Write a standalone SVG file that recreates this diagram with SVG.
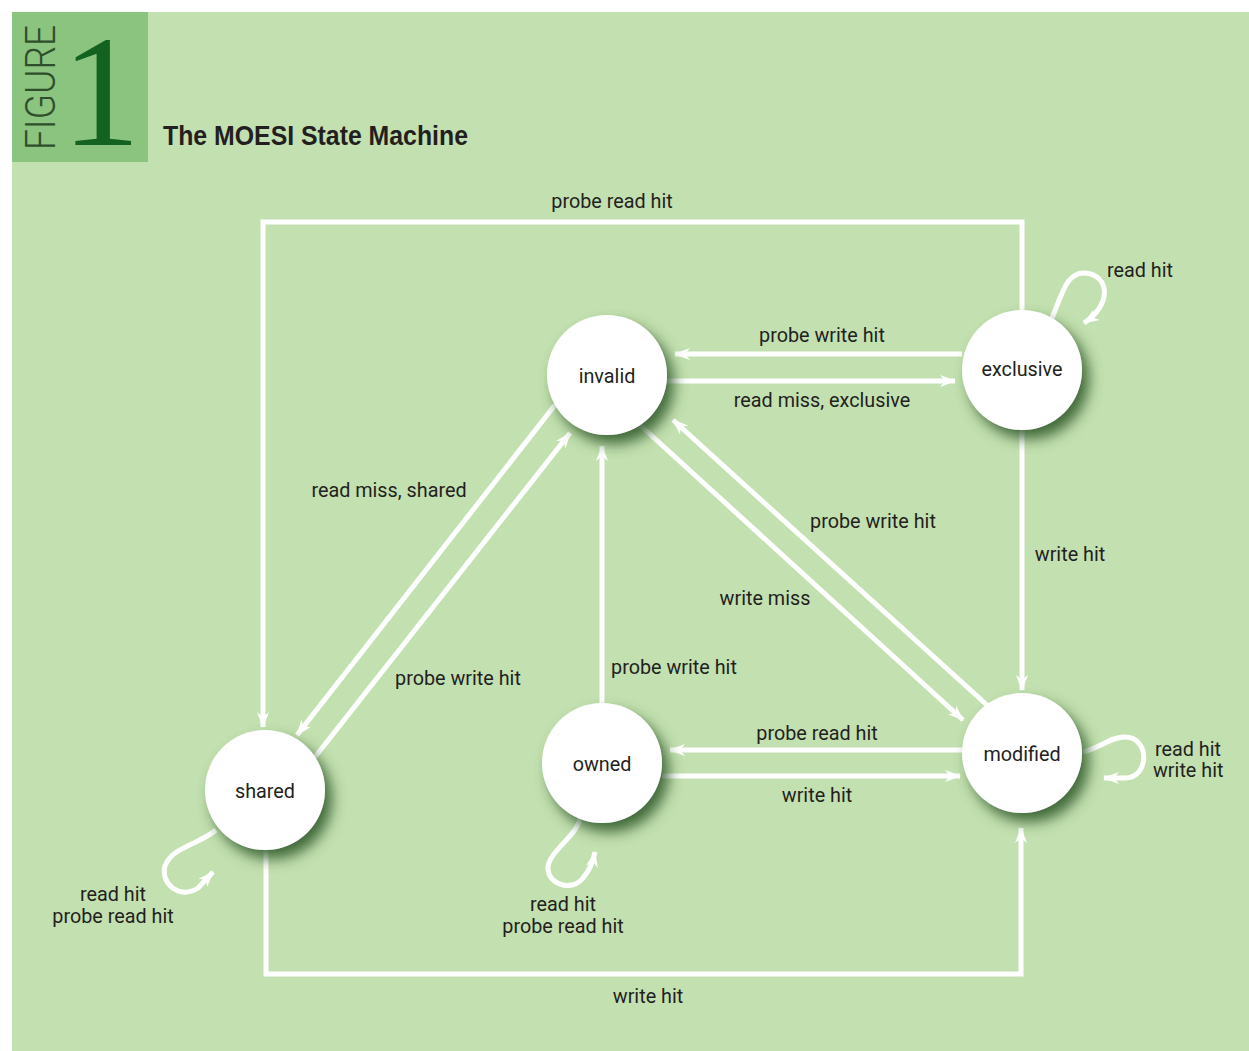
<svg xmlns="http://www.w3.org/2000/svg" width="1249" height="1051" viewBox="0 0 1249 1051">
<defs>
<style>
.bg{fill:#c3e0b0}
.edge{fill:none;stroke:#ffffff;stroke-width:5;marker-end:url(#arr)}
.node{fill:#ffffff;filter:url(#sh)}
.lbl{font-family:Roboto,"Liberation Sans",sans-serif;font-size:19.8px;fill:#231f20}
.c{text-anchor:middle}
</style>
<marker id="arr" viewBox="0 0 16 12" refX="15" refY="6" markerWidth="16" markerHeight="12" markerUnits="userSpaceOnUse" orient="auto">
<path d="M0,0 L16,6 L0,12 L5,6 z" fill="#ffffff"/>
</marker>
<filter id="sh" x="-40%" y="-40%" width="190%" height="190%">
<feDropShadow dx="7" dy="9" stdDeviation="7" flood-color="#2a5227" flood-opacity="0.85"/>
</filter>
</defs>
<rect x="0" y="0" width="1249" height="1051" fill="#ffffff"/>
<rect class="bg" x="12" y="12" width="1237" height="1039"/>
<rect x="12" y="12" width="136" height="150" fill="#8bc47f"/>
<text x="0" y="0" transform="translate(55,150) rotate(-90)" font-family="Roboto,'Liberation Sans',sans-serif" font-weight="300" font-size="42" fill="#2f4f2c" textLength="125" lengthAdjust="spacingAndGlyphs">FIGURE</text>
<text x="101" y="145" text-anchor="middle" font-family="'Liberation Serif',serif" font-size="158" fill="#13621f">1</text>
<text x="163" y="145" font-family="'Liberation Sans Narrow','Liberation Sans',sans-serif" font-weight="bold" font-size="27" fill="#231f20" textLength="305" lengthAdjust="spacingAndGlyphs">The MOESI State Machine</text>

<g id="connectors">
<path class="edge" d="M1022,312 L1022,222 L263,222 L263,727"/>
<path class="edge" d="M962,354 L675,354"/>
<path class="edge" d="M667,381 L955,381"/>
<path class="edge" d="M1022,428 L1022,690"/>
<path class="edge" d="M1052,318 C1062,295 1066,272 1085,273 C1110,275 1112,305 1084,323"/>
<path class="edge" d="M555,405 L297,735"/>
<path class="edge" d="M315,757 L570,433"/>
<path class="edge" d="M602,705 L602,446"/>
<path class="edge" d="M640,425 L963,720"/>
<path class="edge" d="M988,706 L673,420"/>
<path class="edge" d="M962,750 L670,750"/>
<path class="edge" d="M662,776 L960,776"/>
<path class="edge" d="M266,848 L266,974 L1021,974 L1021,828"/>
<path class="edge" d="M216,830 C198,845 172,847 165,866 C160,884 180,900 198,888 L213,872"/>
<path class="edge" d="M580,818 C578,835 548,852 548,868 C548,885 572,892 583,878 C590,870 593,862 595,852"/>
<path class="edge" d="M1083,752 C1100,748 1110,737 1125,737 C1150,737 1150,778 1125,778 L1104,778"/>
</g>

<g id="labels">
<text class="lbl c" x="612" y="208">probe read hit</text>
<text class="lbl" x="1107" y="277">read hit</text>
<text class="lbl c" x="822" y="342">probe write hit</text>
<text class="lbl c" x="822" y="407">read miss, exclusive</text>
<text class="lbl c" x="389" y="497">read miss, shared</text>
<text class="lbl c" x="873" y="528">probe write hit</text>
<text class="lbl c" x="1070" y="561">write hit</text>
<text class="lbl c" x="765" y="605">write miss</text>
<text class="lbl c" x="674" y="674">probe write hit</text>
<text class="lbl c" x="458" y="685">probe write hit</text>
<text class="lbl c" x="817" y="740">probe read hit</text>
<text class="lbl c" x="817" y="802">write hit</text>
<text class="lbl" x="1155" y="756">read hit</text>
<text class="lbl" x="1153" y="777">write hit</text>
<text class="lbl c" x="113" y="901">read hit</text>
<text class="lbl c" x="113" y="923">probe read hit</text>
<text class="lbl c" x="563" y="911">read hit</text>
<text class="lbl c" x="563" y="933">probe read hit</text>
<text class="lbl c" x="648" y="1003">write hit</text>
</g>

<g id="node-invalid"><circle class="node" cx="607" cy="375" r="60"/><text class="lbl c" x="607" y="383">invalid</text></g>
<g id="node-exclusive"><circle class="node" cx="1022" cy="370" r="60"/><text class="lbl c" x="1022" y="376">exclusive</text></g>
<g id="node-shared"><circle class="node" cx="265" cy="790" r="60"/><text class="lbl c" x="265" y="798">shared</text></g>
<g id="node-owned"><circle class="node" cx="602" cy="763" r="60"/><text class="lbl c" x="602" y="771">owned</text></g>
<g id="node-modified"><circle class="node" cx="1022" cy="753" r="60"/><text class="lbl c" x="1022" y="761">modified</text></g>
</svg>
